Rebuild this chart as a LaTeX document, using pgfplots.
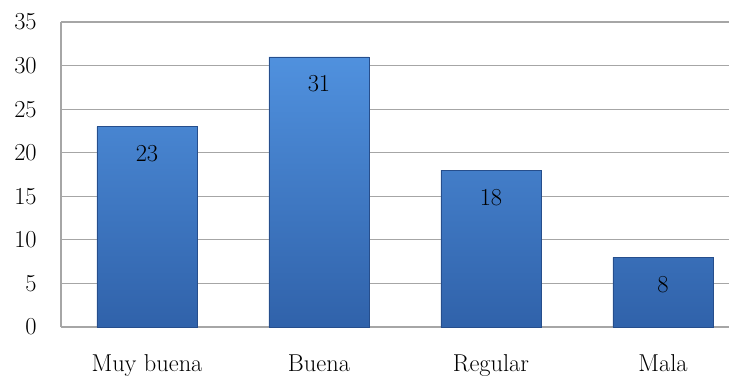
\documentclass[border=0pt]{standalone}
\usepackage{pgfplots}
\pgfplotsset{compat=1.18}

\definecolor{gridgray}{RGB}{166,166,166}
\definecolor{bartop}{RGB}{80,145,222}
\definecolor{barbot}{RGB}{48,98,170}
\definecolor{baredge}{RGB}{38,78,140}

\begin{document}
\begin{tikzpicture}
\fontsize{24.5}{28}\selectfont
\begin{axis}[
  scale only axis,
  width=668bp, height=305bp,
  xmin=-0.5, xmax=3.384,
  ymin=0, ymax=35,
  ytick={0,5,...,35},
  xtick={0,1,2,3},
  xticklabels={Muy buena, Buena, Regular, Mala},
  axis x line*=bottom,
  axis y line*=left,
  axis line style={gridgray, line width=1.2pt, -},
  ymajorgrids,
  major grid style={gridgray, line width=1.2pt},
  major tick length=0pt,
  tick label style={font=\fontsize{24.5}{28}\selectfont, black},
  /pgf/number format/assume math mode=true,
  yticklabel style={anchor=east, xshift=-16bp},
  xticklabel style={anchor=north, yshift=-19bp},
  clip=false,
]
\addplot[
  ybar, bar width=100bp,
  top color=bartop, bottom color=barbot,
  draw=baredge, line width=0.7pt,
  nodes near coords,
  every node near coord/.append style={anchor=center, yshift=-27bp, black, font=\fontsize{24.5}{28}\selectfont},
] coordinates {(0,23) (1,31) (2,18) (3,8)};
\end{axis}
\pgfresetboundingbox
\path (current axis.south west) ++(-61bp,-53bp) coordinate (bl);
\path (current axis.north east) ++(0bp,22bp) coordinate (tr);
\path[use as bounding box] (bl) rectangle (tr);
\end{tikzpicture}
\end{document}
